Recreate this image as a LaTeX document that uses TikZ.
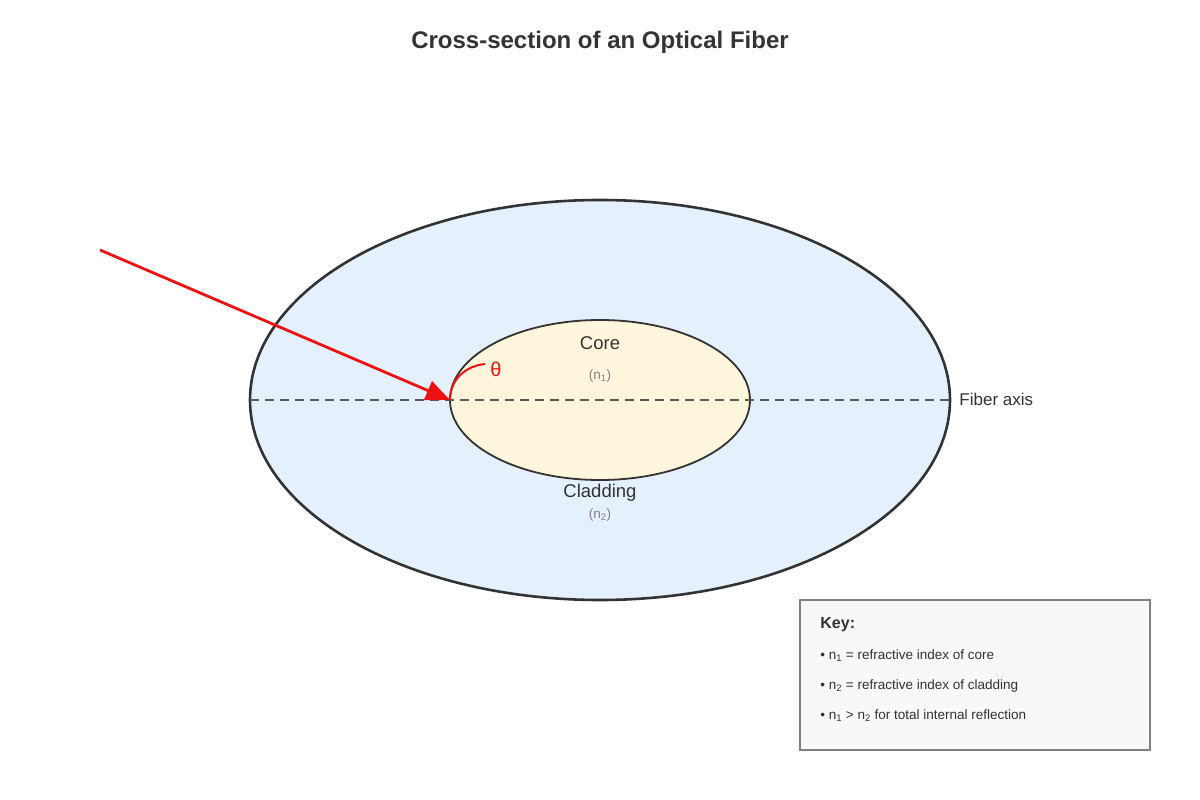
\documentclass[tikz,border=0pt]{standalone}
\usepackage{fontspec}
\setmainfont{Liberation Sans}
\usetikzlibrary{arrows.meta}
\definecolor{inkdark}{HTML}{333333}
\definecolor{claddingfill}{HTML}{E4F0FC}
\definecolor{corefill}{HTML}{FEF6DC}
\definecolor{keyfill}{HTML}{F8F8F8}
\definecolor{raycolor}{HTML}{EE1111}
\begin{document}
\begin{tikzpicture}[x=1pt,y=-1pt,line width=2.2pt,
  layer/.style={draw=inkdark},
  lbl/.style={text=inkdark,font=\fontsize{18.5}{21}\selectfont},
  idx/.style={text=gray,font=\fontsize{13.5}{15}\selectfont},
  keyitem/.style={text=inkdark,anchor=west,font=\fontsize{13.5}{15}\selectfont}]
\useasboundingbox[fill=white] (0,0) rectangle (1200,800);
% title
\node[text=inkdark,font=\bfseries\fontsize{24}{28}\selectfont] (title) at (600,42) {Cross-section of an Optical Fiber};
% fiber layers
\draw[layer,fill=claddingfill,line width=2.6pt] (600,400) ellipse [x radius=350,y radius=200];
\draw[layer,fill=corefill,line width=1.8pt] (600,400) ellipse [x radius=150,y radius=80];
% axis
\coordinate (axl) at (250,400);
\coordinate (axr) at (950,400);
\draw[gray!70!black,line width=1.6pt,dash pattern=on 9pt off 6pt] (axl) -- (axr);
\node[lbl,anchor=west,font=\fontsize{17}{19}\selectfont] (axis) at (955,399) {Fiber axis};
% labels
\node[lbl] (core) at (600,343) {Core};
\node[idx] (n1) at (600,376) {(n\textsubscript{1})};
\node[lbl] (clad) at (600,493) {Cladding};
\node[idx] (n2) at (600,515) {(n\textsubscript{2})};
% incident ray
\coordinate (src) at (100,250);
\coordinate (hit) at (450,400);
\draw[raycolor,line width=2.8pt,-{Triangle[length=24pt,width=20pt]}] (src) -- (hit);
\draw[raycolor,line width=2pt] (hit) .. controls (450,380) and (465,366) .. (485,364);
\node[text=raycolor,font=\fontsize{20}{22}\selectfont] (theta) at (496,369) {θ};
% key
\draw[gray,line width=1.3pt,fill=keyfill] (800,600) rectangle (1150,750);
\node[keyitem,font=\bfseries\fontsize{16}{18}\selectfont] (key) at (816,625) {Key:};
\node[keyitem] (k1) at (816,656) {• n\textsubscript{1} = refractive index of core};
\node[keyitem] (k2) at (816,686) {• n\textsubscript{2} = refractive index of cladding};
\node[keyitem] (k3) at (816,716) {• n\textsubscript{1} > n\textsubscript{2} for total internal reflection};
\end{tikzpicture}
\end{document}
